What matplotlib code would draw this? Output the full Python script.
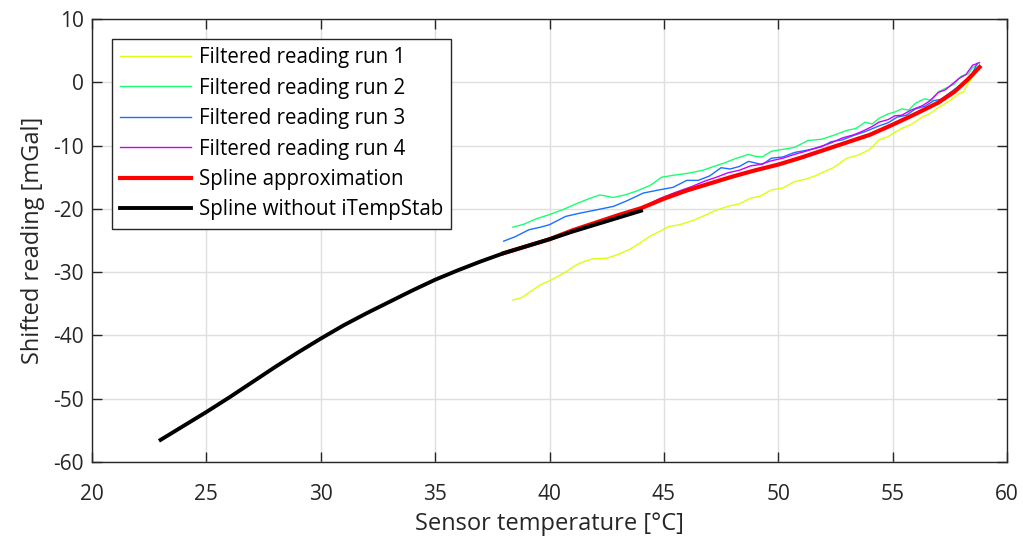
import matplotlib
matplotlib.use("Agg")
import matplotlib.pyplot as plt

plt.rcParams['font.family'] = ['Open Sans', 'DejaVu Sans']
plt.rcParams['axes.unicode_minus'] = False

# --- data ---
# Filtered reading run 1
t_run1 = [38.4, 38.8, 39.2, 39.6, 40.1, 40.6, 41.2, 41.6, 41.9, 42.5, 43.0, 43.5, 44.0, 44.4, 44.8,
          45.2, 45.7, 46.3, 46.8, 47.3, 47.8, 48.3, 48.8, 49.2, 49.7, 50.2, 50.7, 51.2, 51.6, 51.9,
          52.4, 53.0, 53.5, 54.0, 54.4, 54.8, 55.1, 55.4, 55.8, 56.3, 56.6, 57.0, 57.2, 57.5, 57.9,
          58.1, 58.3, 58.5, 58.8]
r_run1 = [-34.4, -34.0, -33.0, -32.0, -31.2, -30.2, -28.8, -28.2, -27.9, -27.8, -27.2, -26.4, -25.3, -24.3, -23.6,
          -22.8, -22.5, -21.8, -21.0, -20.2, -19.6, -19.2, -18.3, -18.0, -17.0, -16.7, -15.7, -15.3, -14.8, -14.3,
          -13.5, -12.0, -11.5, -10.6, -9.1, -8.6, -7.9, -7.3, -6.7, -5.5, -5.0, -4.0, -3.6, -2.9, -1.8,
          -1.5, -0.2, 0.8, 2.2]

# Filtered reading run 2
t_run2 = [38.4, 38.9, 39.4, 40.0, 40.6, 41.3, 41.8, 42.2, 42.5, 42.8, 43.3, 43.8, 44.4, 44.9, 45.4,
          46.0, 46.3, 46.7, 47.1, 47.6, 48.1, 48.7, 49.0, 49.3, 49.7, 50.2, 50.7, 51.3, 51.9, 52.4,
          53.0, 53.4, 53.8, 54.1, 54.4, 54.8, 55.1, 55.4, 55.7, 56.0, 56.4, 56.7, 57.0, 57.4, 57.7,
          58.0, 58.3, 58.5, 58.7]
r_run2 = [-22.9, -22.4, -21.6, -20.9, -20.1, -19.0, -18.3, -17.8, -18.0, -18.2, -17.8, -17.2, -16.3, -15.0, -14.7,
          -14.4, -14.2, -13.9, -13.4, -12.8, -12.1, -11.4, -11.7, -11.8, -10.9, -10.6, -10.3, -9.2, -9.0, -8.4,
          -7.6, -7.3, -6.3, -6.6, -5.7, -5.0, -4.7, -4.2, -4.4, -3.3, -2.6, -2.9, -1.5, -0.8, -0.3,
          1.0, 1.3, 2.3, 2.8]

# Filtered reading run 3
t_run3 = [38.0, 38.5, 39.1, 39.6, 40.0, 40.7, 41.3, 42.0, 42.8, 43.4, 44.1, 44.8, 45.4, 46.0, 46.5,
          47.0, 47.5, 47.9, 48.3, 48.7, 49.3, 49.7, 50.2, 50.7, 51.3, 51.9, 52.3, 52.8, 53.3, 53.8,
          54.4, 54.8, 55.2, 55.6, 56.0, 56.4, 56.8, 57.1, 57.3, 57.6, 57.9, 58.1, 58.3, 58.5, 58.7]
r_run3 = [-25.1, -24.4, -23.3, -22.9, -22.5, -21.2, -20.7, -20.2, -19.6, -18.7, -17.5, -17.0, -16.6, -15.5, -15.5,
          -14.8, -13.5, -13.7, -13.3, -12.5, -13.0, -12.0, -11.8, -11.1, -10.7, -10.2, -9.4, -9.1, -8.4, -7.8,
          -6.9, -6.4, -5.5, -5.2, -4.2, -3.8, -2.9, -2.7, -2.2, -1.4, -0.6, -0.1, 0.2, 1.5, 3.0]

# Filtered reading run 4 (hidden under the spline below ~45 °C)
t_run4 = [38.0, 39.0, 40.0, 41.0, 42.0, 43.0, 44.0, 44.8, 45.5, 46.2, 46.8, 47.3, 47.8, 48.3, 48.8,
          49.2, 49.7, 50.2, 50.7, 51.2, 51.8, 52.3, 52.8, 53.3, 53.7, 54.1, 54.4, 54.8, 55.1, 55.4,
          55.8, 56.3, 56.6, 57.0, 57.3, 57.6, 57.9, 58.2, 58.5, 58.8]
r_run4 = [-27.0, -25.9, -24.8, -23.4, -22.2, -21.0, -19.9, -18.4, -17.4, -16.5, -15.6, -15.0, -14.3, -13.9, -13.2,
          -13.0, -12.4, -12.0, -11.4, -10.9, -10.2, -9.6, -8.8, -8.3, -7.7, -7.0, -6.3, -5.9, -5.3, -5.2,
          -4.4, -3.7, -3.0, -1.6, -1.2, -0.3, 0.6, 1.2, 2.7, 3.1]

# Spline approximation
t_spline = [38.0, 39.0, 40.0, 41.0, 42.0, 43.0, 44.0, 45.0, 46.0, 47.0, 48.0, 49.0, 50.0, 51.0, 52.0,
            53.0, 54.0, 55.0, 56.0, 57.0, 57.7, 58.3, 58.8]
r_spline = [-27.0, -25.9, -24.8, -23.4, -22.2, -21.0, -19.9, -18.4, -17.1, -16.0, -14.9, -13.9, -13.0, -11.9, -10.7,
            -9.5, -8.3, -6.7, -5.0, -3.2, -1.5, 0.5, 2.4]

# Spline without iTempStab
t_nostab = [23, 24, 25, 26, 27, 28, 29, 30, 31, 32, 33, 34, 35, 36, 37, 38, 39, 40, 41, 42, 43, 44]
r_nostab = [-56.5, -54.3, -52.1, -49.8, -47.4, -45.0, -42.7, -40.5, -38.4, -36.5, -34.7, -32.9, -31.2, -29.7,
            -28.3, -27.0, -25.9, -24.8, -23.6, -22.5, -21.4, -20.3]

x_ticks = [20, 25, 30, 35, 40, 45, 50, 55, 60]
y_ticks = [-60, -50, -40, -30, -20, -10, 0, 10]

# --- plot ---
fig = plt.figure(figsize=(10.23, 5.39), dpi=100)
ax = fig.add_axes([92 / 1023, 77 / 539, 915 / 1023, 443 / 539])

ax.plot(t_run1, r_run1, color='#dcff10', lw=1.0, label='Filtered reading run 1')
ax.plot(t_run2, r_run2, color='#1aff70', lw=1.0, label='Filtered reading run 2')
ax.plot(t_run3, r_run3, color='#1a70ff', lw=1.0, label='Filtered reading run 3')
ax.plot(t_run4, r_run4, color='#cc00ff', lw=1.0, label='Filtered reading run 4')
ax.plot(t_spline, r_spline, color='#ff0000', lw=3.0, label='Spline approximation')
ax.plot(t_nostab, r_nostab, color='black', lw=2.8, label='Spline without iTempStab')

ax.set_xlim(20, 60)
ax.set_ylim(-60, 10)
ax.set_xticks(x_ticks)
ax.set_yticks(y_ticks)
ax.grid(True, color='#dfdfdf', lw=1.0)
ax.set_axisbelow(True)
ax.tick_params(direction='in', length=7, width=1.0, top=True, right=True,
               labelsize=15, colors='#262626', pad=6)
ax.tick_params(axis='x', pad=16)
for sp in ax.spines.values():
    sp.set_color('#262626')
    sp.set_linewidth(1.0)

ax.set_xlabel('Sensor temperature [°C]', fontsize=17, color='#262626', labelpad=5)
ax.set_ylabel('Shifted reading [mGal]', fontsize=17, color='#262626', labelpad=6)

leg = ax.legend(loc='upper left', bbox_to_anchor=(0.0219, 0.955), borderaxespad=0,
                fontsize=14.8, handlelength=3.43, handletextpad=0.4, labelspacing=0.46,
                borderpad=0.4, fancybox=False, framealpha=1, edgecolor='#262626')
leg.get_frame().set_linewidth(1.0)

fig.savefig('out.png', dpi=100)
